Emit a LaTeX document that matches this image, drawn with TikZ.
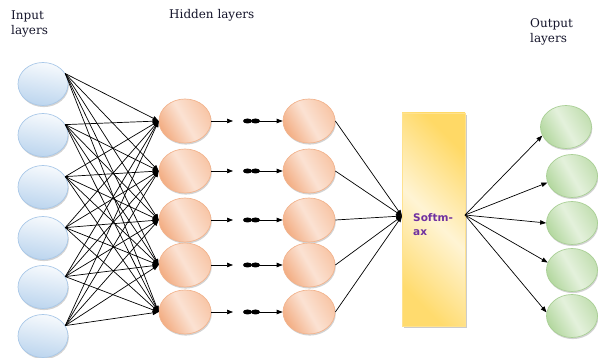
\documentclass[tikz,border=0pt]{standalone}
\usepackage{fontspec}
\setmainfont{DejaVu Serif}
\newfontfamily\smfont{DejaVu Sans}
\usetikzlibrary{shapes.geometric,arrows.meta,shadows}
\definecolor{inpB}{HTML}{A9C8E8}
\definecolor{inpT}{HTML}{F7FAFD}
\definecolor{inpD}{HTML}{BCD5EE}
\definecolor{hidB}{HTML}{F2B48E}
\definecolor{hidL}{HTML}{F8C6A7}
\definecolor{hidM}{HTML}{FBE2D3}
\definecolor{hidR}{HTML}{F3AE84}
\definecolor{outB}{HTML}{A9CF95}
\definecolor{outL}{HTML}{C3DFB2}
\definecolor{outM}{HTML}{E4F1DC}
\definecolor{outR}{HTML}{B4D8A0}
\definecolor{smL}{HTML}{FFDB6E}
\definecolor{smM}{HTML}{FFF4D4}
\definecolor{smR}{HTML}{FFD966}
\definecolor{smB}{HTML}{FFE28F}
\definecolor{smText}{HTML}{7030A0}
\definecolor{lab}{HTML}{14142A}
\begin{document}
\begin{tikzpicture}[x=1pt,y=-1pt,
  shad/.style={drop shadow={shadow xshift=0.8pt,shadow yshift=-1.6pt,opacity=0.35,fill=gray}},
  inp/.style={ellipse,minimum width=50pt,minimum height=43pt,inner sep=0pt,draw=inpB,line width=0.7pt,
    shad,top color=inpT,bottom color=inpD,shading angle=-10},
  hid/.style={ellipse,minimum width=52pt,minimum height=44pt,inner sep=0pt,draw=hidB,line width=0.7pt,
    shad,left color=hidL,right color=hidR,middle color=hidM,shading angle=-60},
  outn/.style={ellipse,minimum width=51pt,minimum height=43pt,inner sep=0pt,draw=outB,line width=0.7pt,
    shad,left color=outL,right color=outR,middle color=outM,shading angle=-60},
  dotn/.style={ellipse,fill=black,minimum width=9pt,minimum height=5pt,inner sep=0pt},
  lbl/.style={font=\fontsize{12}{15}\selectfont,text=lab,align=left,inner sep=0pt},
  arr/.style={line width=0.7pt,-{Triangle[length=6pt,width=4.5pt]}}
]
\useasboundingbox (0,0) rectangle (598,358);

% labels
\node[lbl,anchor=north west] (linput) at (11,11) {Input\\layers};
\node[lbl,anchor=north west] (lhidden) at (169,9) {Hidden layers};
\node[lbl,anchor=north west] (loutput) at (530,18) {Output\\layers};

% input nodes
\foreach \i/\y in {1/84,2/135,3/187,4/238,5/287,6/336}
  \node[inp] (i\i) at (43,\y) {};

% hidden layers
\foreach \j/\y in {1/121,2/171,3/220,4/265,5/312}{
  \node[hid] (a\j) at (185,\y) {};
  \node[hid] (b\j) at (309,\y) {};
}

% softmax
\node[draw=smB,line width=0.8pt,minimum width=63pt,minimum height=213pt,inner sep=0pt,
  left color=smL,right color=smR,middle color=smM,shading angle=135,
  drop shadow={shadow xshift=1.5pt,shadow yshift=-2.5pt,opacity=0.4,fill=gray}]
  (sm) at (433.5,219.5) {};
\node[anchor=north west,font=\smfont\bfseries\fontsize{10.5}{14}\selectfont,text=smText,align=left,inner sep=0pt]
  (smtext) at (413,213) {Softm-\\ax};
\coordinate (smin) at (402,216);
\coordinate (smout) at (465,215);

% output nodes
\node[outn] (o1) at (566,127) {};
\node[outn] (o2) at (572,176) {};
\node[outn] (o3) at (572,223) {};
\node[outn] (o4) at (572,270) {};
\node[outn] (o5) at (572,316) {};

% input -> hidden 1
\foreach \i in {1,...,6}
  \foreach \j in {1,...,5}
    \draw[arr] (i\i.25) -- (a\j.west);

% hidden1 -> dots -> hidden2
\foreach \j/\y in {1/121,2/171,3/220,4/265,5/312}{
  \coordinate (t\j) at (233,\y);
  \node[dotn] (d\j l) at (247.5,\y) {};
  \node[dotn] (d\j r) at (255.5,\y) {};
  \draw[arr] (a\j.east) -- (t\j);
  \draw[arr] (d\j r.center) -- (b\j.west);
}

% hidden2 -> softmax
\foreach \j in {1,...,5}
  \draw[arr] (b\j.east) -- (smin);

% softmax -> outputs
\draw[arr] (smout) -- (o1.200);
\draw[arr] (smout) -- (o2.195);
\draw[arr] (smout) -- (o3.west);
\draw[arr] (smout) -- (o4.163);
\draw[arr] (smout) -- (o5.172);
\end{tikzpicture}
\end{document}
